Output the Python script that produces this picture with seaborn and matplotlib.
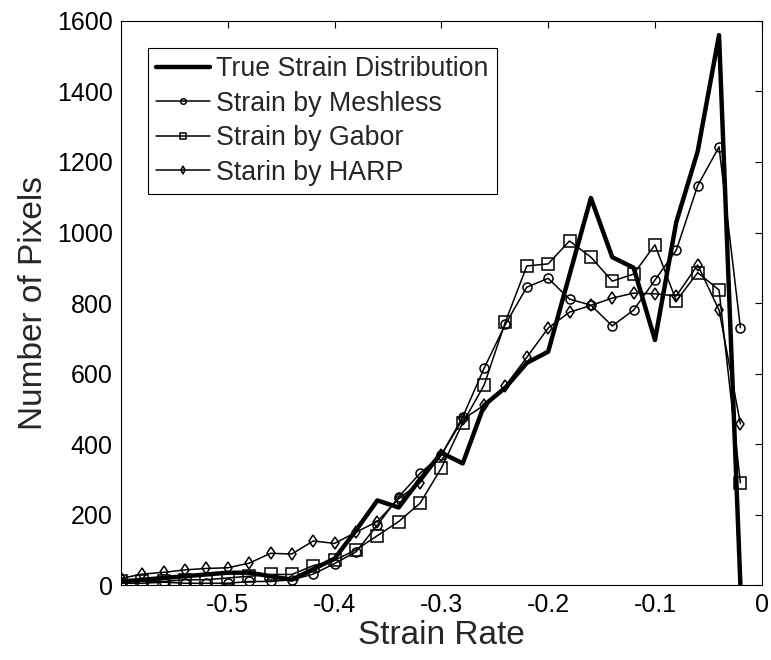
import matplotlib
matplotlib.use("Agg")
import matplotlib.pyplot as plt
import seaborn as sns

# Strain rate bins (x axis)
strain_rate = [-0.60, -0.58, -0.56, -0.54, -0.52, -0.50, -0.48, -0.46, -0.44, -0.42,
               -0.40, -0.38, -0.36, -0.34, -0.32, -0.30, -0.28, -0.26, -0.24, -0.22,
               -0.20, -0.18, -0.16, -0.14, -0.12, -0.10, -0.08, -0.06, -0.04, -0.02]

# Number of pixels per bin
true_dist = [10, 15, 20, 25, 30, 35, 35, 25, 15, 45,
             75, 155, 240, 220, 300, 375, 345, 510, 560, 630,
             662, 880, 1098, 930, 900, 695, 1030, 1230, 1560, 0]
meshless = [5, 5, 8, 5, 5, 5, 10, 10, 15, 31,
            61, 94, 170, 250, 317, 369, 477, 615, 740, 845,
            870, 811, 794, 735, 780, 865, 950, 1133, 1243, 730]
gabor = [10, 10, 10, 15, 15, 20, 25, 30, 30, 55,
         70, 100, 140, 180, 232, 332, 460, 567, 747, 905,
         911, 976, 930, 862, 882, 965, 806, 886, 837, 290]
harp = [19, 31, 36, 43, 47, 49, 62, 90, 88, 125,
        118, 150, 180, 245, 290, 370, 470, 510, 565, 646,
        729, 774, 793, 814, 828, 826, 820, 908, 780, 457]

x_ticks = [-0.5, -0.4, -0.3, -0.2, -0.1, 0]
x_tick_labels = ["-0.5", "-0.4", "-0.3", "-0.2", "-0.1", "0"]
y_ticks = [0, 200, 400, 600, 800, 1000, 1200, 1400, 1600]

sns.set_style("white")
plt.rcParams["font.family"] = ["Liberation Sans", "DejaVu Sans"]
plt.rcParams["axes.unicode_minus"] = False

fig = plt.figure(figsize=(7.71, 6.60), dpi=100)
ax = fig.add_axes([0.157, 0.1136, 0.831, 0.8546])

sns.lineplot(x=strain_rate, y=true_dist, ax=ax, color="black", linewidth=3.2,
             label="True Strain Distribution")
sns.lineplot(x=strain_rate, y=meshless, ax=ax, color="black", linewidth=1.1,
             marker="o", markersize=6.5, markerfacecolor="none",
             markeredgecolor="black", markeredgewidth=1.1, label="Strain by Meshless")
sns.lineplot(x=strain_rate, y=gabor, ax=ax, color="black", linewidth=1.1,
             marker="s", markersize=8, markerfacecolor="none",
             markeredgecolor="black", markeredgewidth=1.1, label="Strain by Gabor")
sns.lineplot(x=strain_rate, y=harp, ax=ax, color="black", linewidth=1.1,
             marker="d", markersize=6.5, markerfacecolor="none",
             markeredgecolor="black", markeredgewidth=1.1, label="Starin by HARP")

ax.set_xlim(-0.6, 0)
ax.set_ylim(0, 1600)
ax.set_xticks(x_ticks)
ax.set_xticklabels(x_tick_labels)
ax.set_yticks(y_ticks)
ax.tick_params(direction="in", length=5, width=0.8, labelsize=18, colors="black",
               top=True, right=True, pad=6)
for sp in ax.spines.values():
    sp.set_color("black")
    sp.set_linewidth(0.8)

ax.set_xlabel("Strain Rate", fontsize=24, labelpad=2)
ax.set_ylabel("Number of Pixels", fontsize=24, labelpad=6)

leg = ax.legend(loc="upper left", bbox_to_anchor=(0.042, 0.952), borderaxespad=0,
                fontsize=19.3, frameon=True, fancybox=False, edgecolor="black",
                framealpha=1, borderpad=0.3, labelspacing=0.32, handlelength=2.0,
                handletextpad=0.25)
leg.get_frame().set_linewidth(0.8)
# legend markers are drawn smaller than on the curves
for h in leg.get_lines():
    h.set_markersize(4)

fig.savefig("out.png", dpi=100)
